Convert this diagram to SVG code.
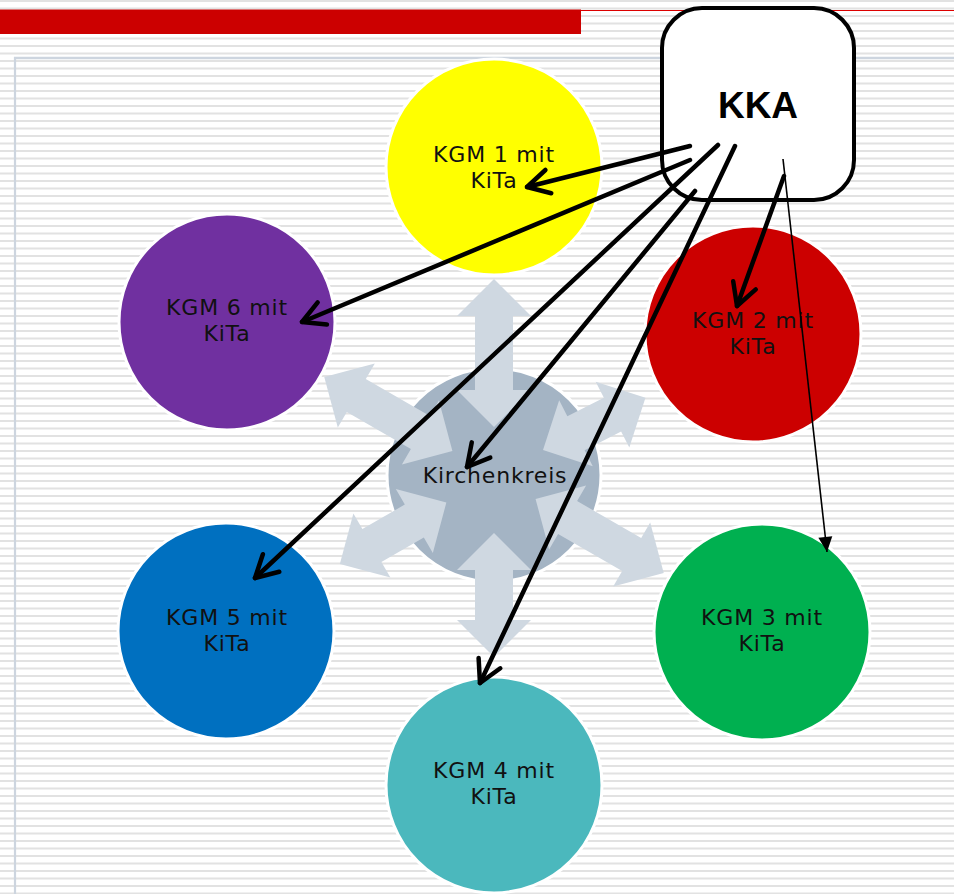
<svg xmlns="http://www.w3.org/2000/svg" width="954" height="894" viewBox="0 0 954 894">
<defs>
<pattern id="stripes" patternUnits="userSpaceOnUse" x="0" y="0" width="20" height="15">
<rect x="0" y="0" width="20" height="15" fill="#ffffff"/>
<rect x="0" y="0" width="20" height="2" fill="#e2e2e2"/>
<rect x="0" y="7.5" width="20" height="2" fill="#e2e2e2"/>
</pattern>
<marker id="open" markerUnits="userSpaceOnUse" viewBox="-30 -20 40 40" refX="0" refY="0" markerWidth="40" markerHeight="40" orient="auto" overflow="visible">
<path d="M-22,-12 L0,0 L-22,12" fill="none" stroke="#000" stroke-width="4.5" stroke-linecap="round" stroke-linejoin="round"/>
</marker>
<marker id="solid" markerUnits="userSpaceOnUse" viewBox="-20 -10 24 20" refX="0" refY="0" markerWidth="24" markerHeight="20" orient="auto" overflow="visible">
<path d="M-15,-7 L0,0 L-15,7 Z" fill="#000"/>
</marker>
<polygon id="dbl" points="48,0 85,-37 85,-19 159,-19 159,-37 196,0 159,37 159,19 85,19 85,37"/>
</defs>
<style>
.node circle{stroke:#ffffff;stroke-width:3}
.lbl{font-family:"DejaVu Sans",Verdana,sans-serif;font-size:22px;letter-spacing:0.8px;fill:#111;text-anchor:middle}
.ray{fill:#cfd8e1}
.thick{stroke:#000;stroke-width:4.5;fill:none;stroke-linecap:round;marker-end:url(#open)}
.thin{stroke:#000;stroke-width:1.6;fill:none;marker-end:url(#solid)}
</style>
<rect x="0" y="0" width="954" height="894" fill="url(#stripes)"/>
<g id="frame">
<rect x="0" y="9.5" width="581" height="24.5" fill="#cc0000"/>
<line x1="580" y1="10.5" x2="954" y2="10.5" stroke="#dd0000" stroke-width="1.2"/>
<line x1="14" y1="58" x2="954" y2="58" stroke="#cdd5df" stroke-width="2.5"/>
<line x1="15" y1="57" x2="15" y2="894" stroke="#cdd5df" stroke-width="2.2"/>
</g>
<g id="kirchenkreis" class="node">
<circle cx="494" cy="475" r="107" fill="#a4b4c4"/>
<g class="ray">
<use href="#dbl" transform="translate(494,475) rotate(-90)"/>
<polygon points="55,0 92,-37 92,-19 133,-19 133,-37 170,0 133,37 133,19 92,19 92,37" transform="translate(494,475) rotate(-27)"/>
<use href="#dbl" transform="translate(494,475) rotate(30)"/>
<polygon points="58,0 95,-37 95,-19 145,-19 145,-37 182,0 145,37 145,19 95,19 95,37" transform="translate(494,475) rotate(90)"/>
<polygon points="55,0 92,-37 92,-19 141,-19 141,-37 178,0 141,37 141,19 92,19 92,37" transform="translate(494,475) rotate(150)"/>
<use href="#dbl" transform="translate(494,475) rotate(210)"/>
</g>
<text class="lbl" x="495" y="483">Kirchenkreis</text>
</g>
<g id="kgm1" class="node">
<circle cx="494" cy="167" r="108" fill="#ffff00"/>
<text class="lbl" x="494" y="162">KGM 1 mit</text>
<text class="lbl" x="494" y="188">KiTa</text>
</g>
<g id="kgm2" class="node">
<circle cx="753" cy="334" r="108" fill="#cc0000"/>
<text class="lbl" x="753" y="328">KGM 2 mit</text>
<text class="lbl" x="753" y="354">KiTa</text>
</g>
<g id="kgm3" class="node">
<circle cx="762" cy="632" r="108" fill="#00b050"/>
<text class="lbl" x="762" y="625">KGM 3 mit</text>
<text class="lbl" x="762" y="651">KiTa</text>
</g>
<g id="kgm4" class="node">
<circle cx="494" cy="785" r="108" fill="#4bb8bd"/>
<text class="lbl" x="494" y="778">KGM 4 mit</text>
<text class="lbl" x="494" y="804">KiTa</text>
</g>
<g id="kgm5" class="node">
<circle cx="226" cy="631" r="108" fill="#0070c0"/>
<text class="lbl" x="227" y="625">KGM 5 mit</text>
<text class="lbl" x="227" y="651">KiTa</text>
</g>
<g id="kgm6" class="node">
<circle cx="227" cy="322" r="108" fill="#7030a0"/>
<text class="lbl" x="227" y="315">KGM 6 mit</text>
<text class="lbl" x="227" y="341">KiTa</text>
</g>
<g id="kka">
<rect x="662" y="8" width="192" height="192" rx="40" ry="40" fill="#ffffff" stroke="#000" stroke-width="4"/>
<text x="758" y="118" font-family="Liberation Sans, Arial, sans-serif" font-weight="bold" font-size="37" text-anchor="middle" fill="#000">KKA</text>
</g>
<g id="connectors">
<line class="thick" x1="690" y1="146" x2="527" y2="187"/>
<line class="thick" x1="690" y1="160" x2="302" y2="322"/>
<line class="thick" x1="695" y1="191" x2="467" y2="467"/>
<line class="thick" x1="718" y1="145" x2="255" y2="578"/>
<line class="thick" x1="735" y1="146" x2="480" y2="683"/>
<line class="thick" x1="784" y1="176" x2="737" y2="306"/>
<line class="thin" x1="783" y1="159" x2="827" y2="552"/>
</g>
</svg>
